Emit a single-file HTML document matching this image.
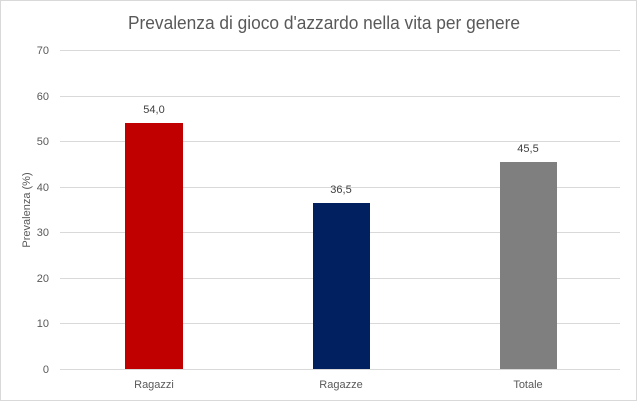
<!DOCTYPE html><html><head><style>body{margin:0;background:#fff}</style></head><body>
<svg width="637" height="401" xmlns="http://www.w3.org/2000/svg" font-family="Liberation Sans, sans-serif">
<rect x="0.5" y="0.5" width="636" height="400" fill="#fff" stroke="#d9d9d9"/>
<text x="128" y="29" textLength="392" lengthAdjust="spacingAndGlyphs" font-size="18" fill="#595959">Prevalenza di gioco d'azzardo nella vita per genere</text>
<g stroke="#d9d9d9" stroke-width="1">
<line x1="60" x2="620" y1="50.5" y2="50.5"/><line x1="60" x2="620" y1="96.5" y2="96.5"/>
<line x1="60" x2="620" y1="141.5" y2="141.5"/><line x1="60" x2="620" y1="187.5" y2="187.5"/>
<line x1="60" x2="620" y1="232.5" y2="232.5"/><line x1="60" x2="620" y1="278.5" y2="278.5"/>
<line x1="60" x2="620" y1="323.5" y2="323.5"/><line x1="60" x2="620" y1="369.5" y2="369.5"/>
</g>
<g font-size="11" fill="#595959" text-anchor="end">
<text x="49" y="54">70</text><text x="49" y="100">60</text><text x="49" y="145">50</text>
<text x="49" y="191">40</text><text x="49" y="236">30</text><text x="49" y="282">20</text>
<text x="49" y="327">10</text><text x="49" y="373">0</text>
</g>
<text transform="translate(30,210) rotate(-90)" text-anchor="middle" font-size="11" fill="#595959">Prevalenza (%)</text>
<rect x="125" y="123" width="58" height="246" fill="#c00000"/>
<rect x="313" y="203" width="57" height="166" fill="#002060"/>
<rect x="500" y="162" width="57" height="207" fill="#7f7f7f"/>
<g font-size="11" fill="#404040" text-anchor="middle">
<text x="154" y="113">54,0</text><text x="341" y="193">36,5</text><text x="528" y="152">45,5</text>
</g>
<g font-size="11" fill="#595959" text-anchor="middle">
<text x="154" y="388">Ragazzi</text><text x="341" y="388">Ragazze</text><text x="528" y="388">Totale</text>
</g>
</svg></body></html>
